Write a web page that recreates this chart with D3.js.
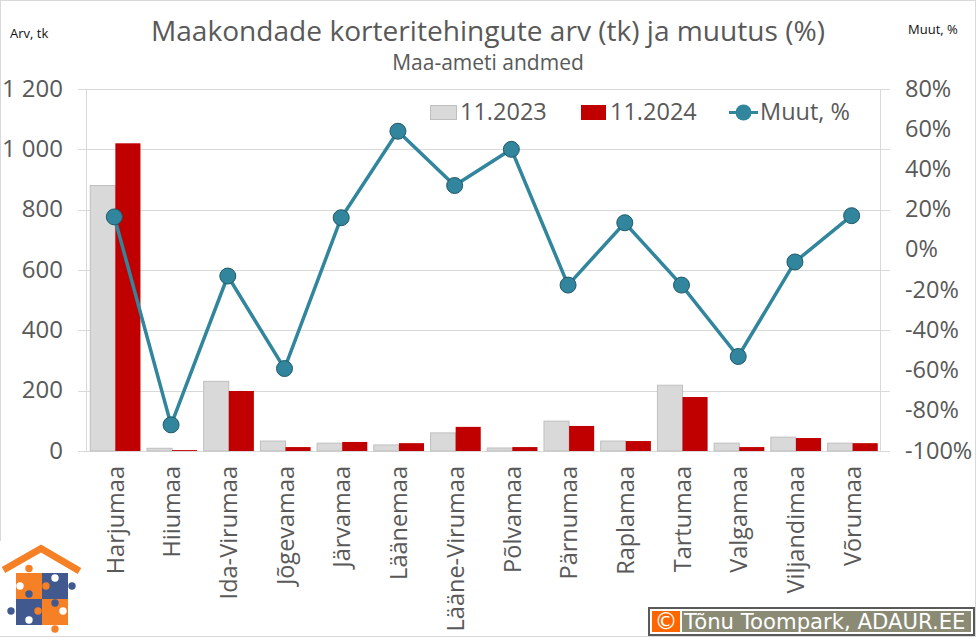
<!DOCTYPE html>
<html>
<head>
<meta charset="utf-8">
<script src="https://cdn.jsdelivr.net/npm/d3@7"></script>
<style>
  html, body { margin: 0; padding: 0; background: #fff; overflow: hidden; }
  svg { display: block; }
  text { font-family: "Open Sans", sans-serif; fill: #595959; }
</style>
</head>
<body>
<svg id="chart" width="976" height="637"></svg>
<script>
const categories = ['Harjumaa', 'Hiiumaa', 'Ida-Virumaa', 'Jõgevamaa', 'Järvamaa', 'Läänemaa', 'Lääne-Virumaa',
  'Põlvamaa', 'Pärnumaa', 'Raplamaa', 'Tartumaa', 'Valgamaa', 'Viljandimaa', 'Võrumaa'];
const values2023 = [880, 9, 231, 33, 26, 20, 60, 10, 99, 33, 218, 26, 46, 26];
const values2024 = [1020, 3, 199, 13, 30, 26, 80, 13, 83, 33, 179, 13, 43, 26];
const changePct = [16.4, -87, -13, -59, 16, 59, 32, 50, -17.5, 13.5, -17.5, -53, -6, 17];
const leftTicks = [0, 200, 400, 600, 800, 1000, 1200];
const rightTicks = [-100, -80, -60, -40, -20, 0, 20, 40, 60, 80];
const seriesNames = ['11.2023', '11.2024', 'Muut, %'];

const svg = d3.select('#chart');
const margin = { top: 89, right: 95, bottom: 186, left: 87 };
const innerWidth = 976 - margin.left - margin.right;
const innerHeight = 637 - margin.top - margin.bottom;
const bottomY = margin.top + innerHeight;
const rightX = margin.left + innerWidth;

// picture frame
svg.append('rect').attr('x', 0.5).attr('y', 0.5).attr('width', 975).attr('height', 636)
  .attr('fill', '#fff').attr('stroke', '#d9d9d9');

// scales work in page coordinates
const x = d3.scaleBand().domain(categories).range([margin.left, rightX]).paddingInner(0.115).paddingOuter(0.0575);
const yLeft = d3.scaleLinear().domain([0, 1200]).range([bottomY, margin.top]);
const yRight = d3.scaleLinear().domain([-100, 80]).range([bottomY, margin.top]);
const xInner = d3.scaleBand().domain([0, 1]).range([0, x.bandwidth()]);
const xMid = (d, i) => x(categories[i]) + x.bandwidth() / 2 - 1;

const g = svg.append('g');

// gridlines, they stick out past both value axes as tick marks
g.append('g').selectAll('line')
  .data(leftTicks)
  .enter().append('line')
  .attr('x1', margin.left - 9).attr('x2', rightX + 9)
  .attr('y1', d => Math.round(yLeft(d)) + 0.5).attr('y2', d => Math.round(yLeft(d)) + 0.5)
  .attr('stroke', '#d9d9d9').attr('stroke-width', 1);

// vertical axis lines
g.append('g').selectAll('line')
  .data([margin.left, rightX])
  .enter().append('line')
  .attr('x1', d => d - 0.5).attr('x2', d => d - 0.5).attr('y1', margin.top).attr('y2', bottomY)
  .attr('stroke', '#d9d9d9');

// bars
g.append('g').selectAll('rect')
  .data(values2023)
  .enter().append('rect')
  .attr('x', (d, i) => x(categories[i]) + xInner(0))
  .attr('y', d => yLeft(d))
  .attr('width', xInner.bandwidth())
  .attr('height', d => bottomY - yLeft(d))
  .attr('fill', '#d9d9d9').attr('stroke', '#bfbfbf').attr('stroke-width', 1);

g.append('g').selectAll('rect')
  .data(values2024)
  .enter().append('rect')
  .attr('x', (d, i) => x(categories[i]) + xInner(1))
  .attr('y', d => yLeft(d))
  .attr('width', xInner.bandwidth())
  .attr('height', d => bottomY - yLeft(d))
  .attr('fill', '#c00000');

// line
const line = d3.line().x(xMid).y(d => yRight(d));

g.append('path').datum(changePct)
  .attr('d', line)
  .attr('fill', 'none').attr('stroke', '#31859c').attr('stroke-width', 3.5);

g.append('g').selectAll('circle')
  .data(changePct)
  .enter().append('circle')
  .attr('cx', xMid)
  .attr('cy', d => yRight(d))
  .attr('r', 8)
  .attr('fill', '#31859c').attr('stroke', '#215968').attr('stroke-width', 1);

// axes: tick labels get page coordinates instead of the per-tick translate
const xAxis = g.append('g')
  .call(d3.axisBottom(x).tickSize(0))
  .attr('font-size', 23.5).attr('font-family', '"Open Sans", sans-serif');
xAxis.select('.domain').remove();
xAxis.selectAll('.tick').attr('transform', null);
xAxis.selectAll('text')
  .attr('text-anchor', 'end')
  .attr('dy', '0.35em')
  .attr('x', d => x(d) + x.bandwidth() / 2)
  .attr('y', bottomY + 15)
  .attr('transform', d => `rotate(-90,${x(d) + x.bandwidth() / 2},${bottomY + 15})`);

const leftAxis = g.append('g')
  .call(d3.axisLeft(yLeft).tickValues(leftTicks).tickSize(0).tickFormat(d => d3.format(',')(d).replace(',', ' ')))
  .attr('font-size', 24).attr('font-family', '"Open Sans", sans-serif');
leftAxis.select('.domain').remove();
leftAxis.selectAll('.tick').attr('transform', null);
leftAxis.selectAll('text').attr('x', margin.left - 24).attr('y', d => yLeft(d));

const rightAxis = g.append('g')
  .call(d3.axisRight(yRight).tickValues(rightTicks).tickSize(0).tickFormat(d => d + '%'))
  .attr('font-size', 23.5).attr('font-family', '"Open Sans", sans-serif');
rightAxis.select('.domain').remove();
rightAxis.selectAll('.tick').attr('transform', null);
rightAxis.selectAll('text').attr('x', rightX + 24).attr('y', d => yRight(d));

// titles
svg.append('text').attr('x', 488).attr('y', 41).attr('text-anchor', 'middle')
  .attr('font-size', 28.1).text('Maakondade korteritehingute arv (tk) ja muutus (%)');
svg.append('text').attr('x', 488).attr('y', 70).attr('text-anchor', 'middle')
  .attr('font-size', 21).text('Maa-ameti andmed');
svg.append('text').attr('x', 10).attr('y', 38).attr('font-size', 13).style('fill', '#111').text('Arv, tk');
svg.append('text').attr('x', 908).attr('y', 34).attr('font-size', 13).style('fill', '#111').text('Muut, %');

// legend
const legend = svg.append('g');
legend.append('rect').attr('x', 430.5).attr('y', 105.5).attr('width', 26).attr('height', 14)
  .attr('fill', '#d9d9d9').attr('stroke', '#bfbfbf');
legend.append('text').attr('x', 460).attr('y', 120).attr('font-size', 23.5).text(seriesNames[0]);
legend.append('rect').attr('x', 581).attr('y', 105).attr('width', 25).attr('height', 15).attr('fill', '#c00000');
legend.append('text').attr('x', 610).attr('y', 120).attr('font-size', 23.5).text(seriesNames[1]);
legend.append('line').attr('x1', 729).attr('x2', 758).attr('y1', 112.5).attr('y2', 112.5)
  .attr('stroke', '#31859c').attr('stroke-width', 3);
legend.append('circle').attr('cx', 743.5).attr('cy', 112.5).attr('r', 8).attr('fill', '#31859c');
legend.append('text').attr('x', 760).attr('y', 120).attr('font-size', 23.5).text(seriesNames[2]);

// credit box
const credit = svg.append('g');
credit.append('rect').attr('x', 649).attr('y', 608).attr('width', 325).attr('height', 27)
  .attr('fill', '#fff').attr('stroke', '#595959').attr('stroke-width', 2);
credit.append('rect').attr('x', 652).attr('y', 611).attr('width', 28).attr('height', 21).attr('fill', '#ff6600');
credit.append('rect').attr('x', 682).attr('y', 611).attr('width', 289).attr('height', 21).attr('fill', '#8a8a75');
credit.append('text').attr('x', 666).attr('y', 629).attr('text-anchor', 'middle').attr('font-size', 23)
  .style('font-family', '"DejaVu Sans"').style('fill', '#fff').text('©');
credit.append('text').attr('x', 684).attr('y', 629).attr('font-size', 21.2)
  .style('font-family', '"DejaVu Sans"').style('fill', '#fff').text('Tõnu Toompark, ADAUR.EE');

// logo
const logo = svg.append('g');
const orange = '#f58026', blue = '#41598f';
logo.append('rect').attr('x', 0).attr('y', 541).attr('width', 84).attr('height', 95).attr('fill', '#fff');
logo.append('path').attr('d', 'M3.5,570 L41,548.5 L79.5,571').attr('fill', 'none').attr('stroke', orange).attr('stroke-width', 7);
logo.append('rect').attr('x', 16).attr('y', 573).attr('width', 26).attr('height', 26).attr('fill', orange);
logo.append('rect').attr('x', 42).attr('y', 573).attr('width', 26).attr('height', 26).attr('fill', blue);
logo.append('rect').attr('x', 16).attr('y', 599).attr('width', 26).attr('height', 26).attr('fill', blue);
logo.append('rect').attr('x', 42).attr('y', 599).attr('width', 26).attr('height', 26).attr('fill', orange);
const knobs = [[29, 568.5, orange], [72, 586, blue], [55, 629, orange], [11, 611, blue],
  [46, 586, orange], [29, 594, blue], [55, 603, blue], [38, 611, orange]];
const holes = [[20, 586], [55, 578], [29, 620], [63, 611]];
logo.selectAll('circle.knob').data(knobs).enter().append('circle').attr('class', 'knob')
  .attr('cx', d => d[0]).attr('cy', d => d[1]).attr('r', 3.7).attr('fill', d => d[2]);
logo.selectAll('circle.hole').data(holes).enter().append('circle').attr('class', 'hole')
  .attr('cx', d => d[0]).attr('cy', d => d[1]).attr('r', 3.7).attr('fill', '#fff');
</script>
</body>
</html>
